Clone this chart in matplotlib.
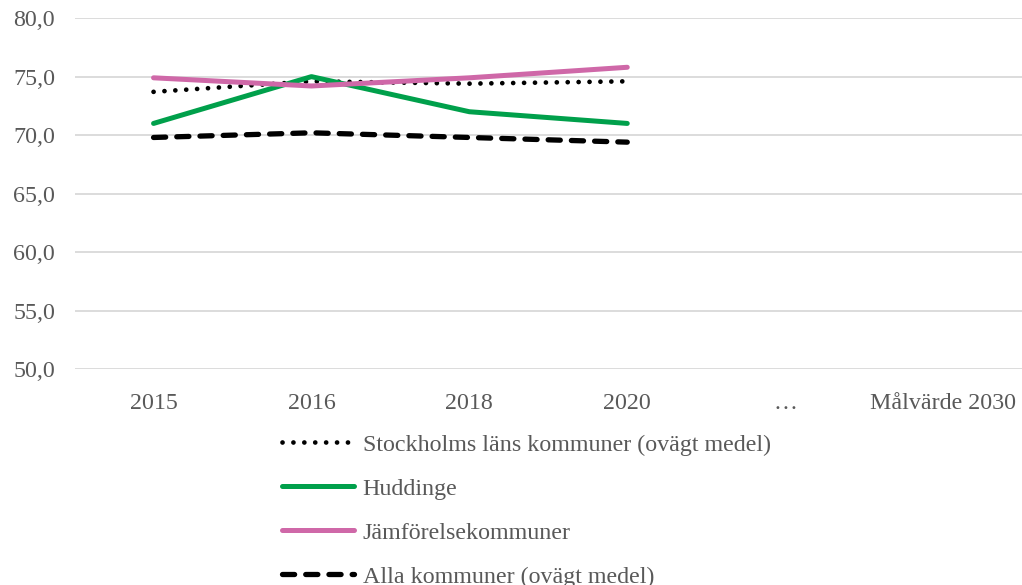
import matplotlib.pyplot as plt

plt.rcParams["font.family"] = ["Liberation Serif", "DejaVu Serif"]

categories = ["2015", "2016", "2018", "2020", "…", "Målvärde 2030"]
stockholm = [73.7, 74.6, 74.4, 74.6]
huddinge = [71.0, 75.0, 72.0, 71.0]
jamforelse = [74.9, 74.2, 74.9, 75.8]
alla = [69.8, 70.2, 69.8, 69.4]

TEXT = "#595959"
GRID = "#d9d9d9"

fig = plt.figure(figsize=(10.22, 5.85), dpi=100)
ax = fig.add_axes([0.073, 0.369, 0.927, 0.6])

x = list(range(len(stockholm)))
ax.plot(x, stockholm, color="black", lw=3.4, linestyle=(0, (0.01, 2.3)),
        dash_capstyle="round", label="Stockholms läns kommuner (ovägt medel)", zorder=3)
ax.plot(x, huddinge, color="#00A04B", lw=3.6, solid_capstyle="round",
        label="Huddinge", zorder=4)
ax.plot(x, jamforelse, color="#CF68A8", lw=3.6, solid_capstyle="round",
        label="Jämförelsekommuner", zorder=5)
ax.plot(x, alla, color="black", lw=3.8, linestyle=(0, (2.3, 2.1)),
        dash_capstyle="round", label="Alla kommuner (ovägt medel)", zorder=3)

ax.set_xlim(-0.5, len(categories) - 0.5)
ax.set_ylim(50, 80)
ax.set_xticks(range(len(categories)))
ax.set_xticklabels(categories)
ax.set_yticks(range(50, 81, 5))
ax.set_yticklabels([f"{v},0" for v in range(50, 81, 5)])
ax.tick_params(length=0, labelsize=17.3, colors=TEXT)
ax.tick_params(axis="x", pad=17)
ax.tick_params(axis="y", pad=14)
ax.yaxis.grid(True, color=GRID, lw=1.3)
ax.set_axisbelow(True)
for s in ax.spines.values():
    s.set_visible(False)

# legend sits below the plot, last row runs into the bottom edge like the original
fig.legend(loc="upper left", bbox_to_anchor=(0.276, 0.258), frameon=False,
           fontsize=17.3, labelcolor=TEXT, handlelength=3.0, handletextpad=0.35,
           labelspacing=0.92, borderpad=0, borderaxespad=0)

fig.savefig("out.png", dpi=100)
